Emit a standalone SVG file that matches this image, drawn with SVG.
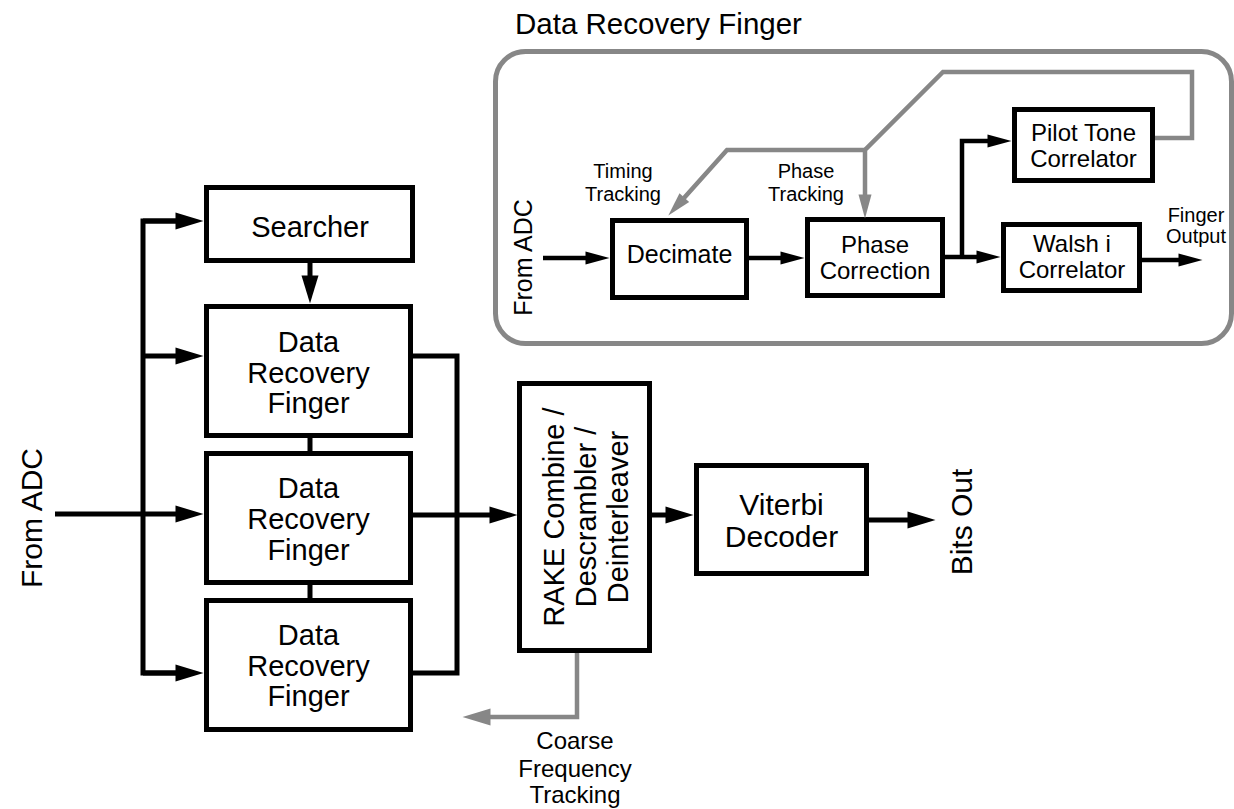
<svg xmlns="http://www.w3.org/2000/svg" width="1234" height="809" viewBox="0 0 1234 809">
<style>
.box{fill:#fff;stroke:#000;stroke-width:5}
.ibox{fill:#fff;stroke:#000;stroke-width:5}
.ln{fill:none;stroke:#000;stroke-width:5}
.iln{fill:none;stroke:#000;stroke-width:4.5}
.gln{fill:none;stroke:#878787;stroke-width:4.5}
text{font-family:"Liberation Sans",Arial,sans-serif;fill:#000}
.t29{font-size:29px;text-anchor:middle}
.t30{font-size:30px;text-anchor:middle}
.t25{font-size:25px;text-anchor:middle}
.t24{font-size:24px;text-anchor:middle}
.t20{font-size:20px;text-anchor:middle}
</style>
<defs>
<marker id="ah" markerUnits="userSpaceOnUse" viewBox="0 -10 30 20" refX="0.5" refY="0" markerWidth="30" markerHeight="20" orient="auto" overflow="visible"><path d="M0,-8.5 L28,0 L0,8.5 z" fill="#000"/></marker>
<marker id="ahs" markerUnits="userSpaceOnUse" viewBox="0 -8 26 16" refX="0.5" refY="0" markerWidth="26" markerHeight="16" orient="auto" overflow="visible"><path d="M0,-6.5 L24,0 L0,6.5 z" fill="#000"/></marker>
<marker id="ahg" markerUnits="userSpaceOnUse" viewBox="0 -8 26 16" refX="0.5" refY="0" markerWidth="26" markerHeight="16" orient="auto" overflow="visible"><path d="M0,-6.5 L24,0 L0,6.5 z" fill="#878787"/></marker>
<marker id="ahgl" markerUnits="userSpaceOnUse" viewBox="0 -10 30 20" refX="0.5" refY="0" markerWidth="30" markerHeight="20" orient="auto" overflow="visible"><path d="M0,-8.5 L28,0 L0,8.5 z" fill="#878787"/></marker>
</defs>

<g id="finger-detail">
<rect x="495.5" y="51.5" width="736" height="292" rx="30" ry="30" fill="none" stroke="#878787" stroke-width="5"/>
<text x="515" y="34" style="font-size:29.5px">Data Recovery Finger</text>
<text transform="rotate(-90 532 257.5)" x="532" y="257.5" class="t25">From ADC</text>
<text x="623" y="178" class="t20">Timing</text>
<text x="623" y="201" class="t20">Tracking</text>
<text x="806" y="178" class="t20">Phase</text>
<text x="806" y="201" class="t20">Tracking</text>
<text x="1196" y="222" class="t20">Finger</text>
<text x="1196" y="243" class="t20">Output</text>
</g>

<g id="decimate">
<rect class="ibox" x="612.5" y="220.5" width="134" height="77"/>
<text x="679.5" y="263" class="t25">Decimate</text>
</g>
<g id="phase-correction">
<rect class="ibox" x="807.5" y="219.5" width="135" height="76"/>
<text x="875" y="253" class="t24">Phase</text>
<text x="875" y="279" class="t24">Correction</text>
</g>
<g id="pilot-tone">
<rect class="ibox" x="1014.5" y="109.5" width="138" height="71"/>
<text x="1083.5" y="141" class="t24">Pilot Tone</text>
<text x="1083.5" y="167" class="t24">Correlator</text>
</g>
<g id="walsh">
<rect class="ibox" x="1003.5" y="224.5" width="136" height="66"/>
<text x="1072" y="252" class="t24">Walsh i</text>
<text x="1072" y="278" class="t24">Correlator</text>
</g>

<g id="searcher">
<rect class="box" x="206.5" y="187.5" width="206" height="73"/>
<text x="310" y="237" class="t29">Searcher</text>
</g>
<g id="drf1">
<rect class="box" x="206.5" y="306.5" width="204" height="129"/>
<text x="308.5" y="352" class="t29">Data</text>
<text x="308.5" y="382.5" class="t29">Recovery</text>
<text x="308.5" y="413" class="t29">Finger</text>
</g>
<g id="drf2">
<rect class="box" x="206.5" y="453.5" width="204" height="129"/>
<text x="308.5" y="498" class="t29">Data</text>
<text x="308.5" y="529" class="t29">Recovery</text>
<text x="308.5" y="560" class="t29">Finger</text>
</g>
<g id="drf3">
<rect class="box" x="206.5" y="600.5" width="204" height="129"/>
<text x="308.5" y="645" class="t29">Data</text>
<text x="308.5" y="676" class="t29">Recovery</text>
<text x="308.5" y="706" class="t29">Finger</text>
</g>
<g id="rake">
<rect class="box" x="519.5" y="383.5" width="130" height="267"/>
<g transform="rotate(-90 586 517)">
<text x="586" y="517" class="t29" transform="translate(0 -22)">RAKE Combine /</text>
<text x="586" y="517" class="t29" transform="translate(0 10)">Descrambler /</text>
<text x="586" y="517" class="t29" transform="translate(0 42)">Deinterleaver</text>
</g>
</g>
<g id="viterbi">
<rect class="box" x="696.5" y="465.5" width="170" height="108"/>
<text x="781.5" y="515" class="t30">Viterbi</text>
<text x="781.5" y="547" class="t30">Decoder</text>
</g>
<g id="labels">
<text transform="rotate(-90 42 518)" x="42" y="518" class="t30">From ADC</text>
<text transform="rotate(-90 972 522)" x="972" y="522" class="t30">Bits Out</text>
<text x="575" y="749" class="t24">Coarse</text>
<text x="575" y="777" class="t24">Frequency</text>
<text x="575" y="803" class="t24">Tracking</text>
</g>

<g id="connectors">
<path class="ln" d="M176,221 H143 V673 H176"/>
<path class="ln" d="M143,221 H176" marker-end="url(#ah)"/>
<path class="ln" d="M143,356 H176" marker-end="url(#ah)"/>
<path class="ln" d="M143,673 H176" marker-end="url(#ah)"/>
<path class="ln" d="M55,514 H176" marker-end="url(#ah)"/>
<path class="ln" d="M310,263 V276" marker-end="url(#ah)"/>
<path class="ln" d="M310,438 V451"/>
<path class="ln" d="M310,585 V598"/>
<path class="ln" d="M413,356 H457 V673 H413"/>
<path class="ln" d="M413,515 H490" marker-end="url(#ah)"/>
<path class="ln" d="M652,515 H666" marker-end="url(#ah)"/>
<path class="ln" d="M869,520 H908" marker-end="url(#ah)"/>
<path class="gln" d="M577,653 V717 H490" marker-end="url(#ahgl)"/>
<path class="iln" d="M543,258 H586" marker-end="url(#ahs)"/>
<path class="iln" d="M749,258 H781" marker-end="url(#ahs)"/>
<path class="iln" d="M945,257 H977" marker-end="url(#ahs)"/>
<path class="iln" d="M962,257 V141 H988" marker-end="url(#ahs)"/>
<path class="iln" d="M1142,260 H1179" marker-end="url(#ahs)"/>
<path class="gln" d="M1155,138 H1192 V72 H943 L865,150 V195" marker-end="url(#ahg)"/>
<path class="gln" d="M865,150 H727 L684,198" marker-end="url(#ahg)"/>
</g>
</svg>
